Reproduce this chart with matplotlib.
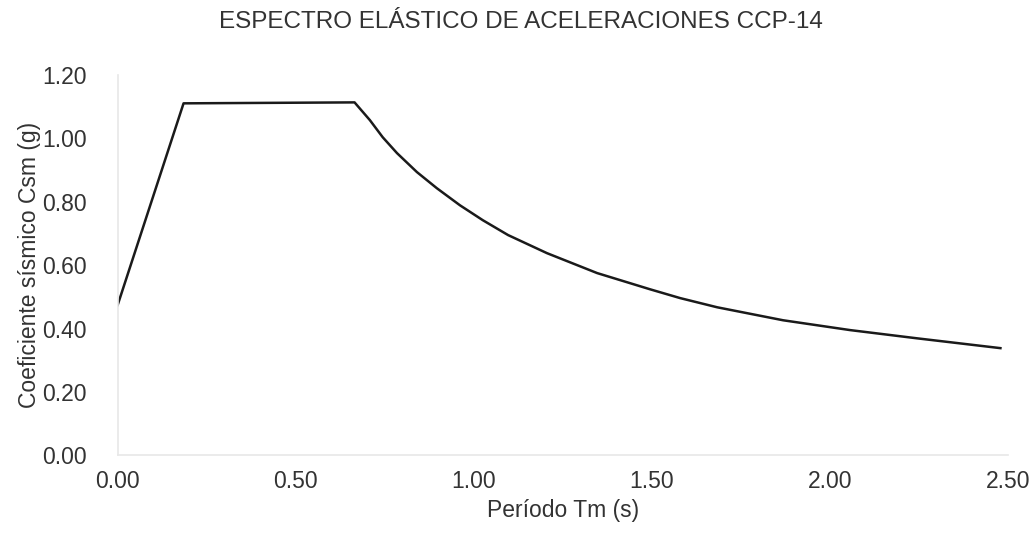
import matplotlib
matplotlib.use("Agg")
import matplotlib.pyplot as plt

# Data
periodo = [0.000, 0.185, 0.665, 0.708, 0.744, 0.784, 0.840, 0.896, 0.961,
           1.025, 1.096, 1.205, 1.346, 1.494, 1.579, 1.683, 1.868, 2.056,
           2.244, 2.478]
csm = [0.474, 1.111, 1.114, 1.058, 1.004, 0.954, 0.894, 0.843, 0.789,
       0.742, 0.695, 0.638, 0.575, 0.524, 0.496, 0.467, 0.426, 0.395,
       0.369, 0.338]
x_ticks = [0.0, 0.5, 1.0, 1.5, 2.0, 2.5]
y_ticks = [0.0, 0.2, 0.4, 0.6, 0.8, 1.0, 1.2]

plt.rcParams['font.family'] = ['Liberation Sans', 'DejaVu Sans']

fig = plt.figure(figsize=(10.32, 5.33), dpi=100)
ax = fig.add_axes([0.114, 0.146, 0.863, 0.713])
ax.plot(periodo, csm, color='#1a1a1a', lw=1.8)
ax.set_xlim(0, 2.5)
ax.set_ylim(0, 1.2)
ax.set_xticks(x_ticks)
ax.set_yticks(y_ticks)
ax.set_xticklabels([f"{v:.2f}" for v in x_ticks])
ax.set_yticklabels([f"{v:.2f}" for v in y_ticks])
ax.tick_params(axis='both', length=0, labelsize=16.5, colors='#333333')
ax.tick_params(axis='x', pad=11)
ax.tick_params(axis='y', pad=22)
for s in ['top', 'right']:
    ax.spines[s].set_visible(False)
for s in ['left', 'bottom']:
    ax.spines[s].set_color('#e8e8e8')
    ax.spines[s].set_linewidth(1.2)
ax.set_xlabel('Período Tm (s)', fontsize=16.5, color='#333333', labelpad=4)
ax.set_ylabel('Coeficiente sísmico Csm (g)', fontsize=16.5, color='#333333', labelpad=1)
fig.text(0.505, 0.958, 'ESPECTRO ELÁSTICO DE ACELERACIONES CCP-14',
         ha='center', va='center', fontsize=17.5, color='#333333')
fig.savefig('out.png', dpi=100)
